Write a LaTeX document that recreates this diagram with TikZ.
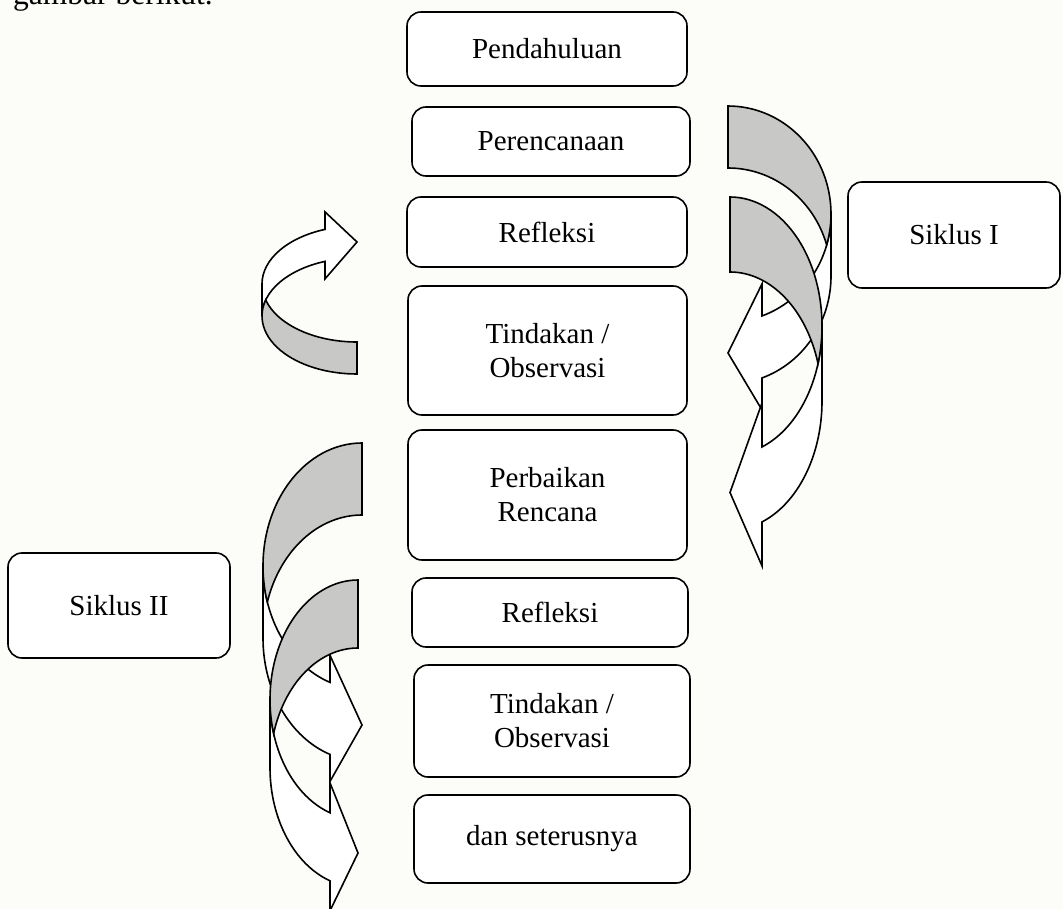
\documentclass[tikz,border=0pt]{standalone}
\usepackage{fontspec}
\setmainfont{Liberation Serif}
\definecolor{bgcol}{RGB}{252,252,248}
\definecolor{bandgray}{RGB}{200,201,199}
\newcommand{\bxfont}{\fontsize{29}{34}\selectfont}
\newcommand{\curlarrow}[9]{%
  \pgfmathsetmacro\CAt{acos(-(#9)/(#5))}%
  \pgfmathsetmacro\CAdy{(#6)*sin(\CAt)}%
  \pgfmathsetmacro\CAdh{((#8)-(#7))/2}%
  \pgfmathsetmacro\CAyv{(#6)+\CAdy}%
  \pgfmathsetmacro\CAyvii{(#6)+(#7)+\CAdy}%
  \pgfmathsetmacro\CAyiv{\CAyv-\CAdh}%
  \pgfmathsetmacro\CAyviii{\CAyvii+\CAdh}%
  \pgfmathsetmacro\CAyvi{2*(#6)+(#7)/2}%
  \pgfmathsetmacro\CAs{asin((#7)/(2*(#6)))}%
  \pgfmathsetmacro\CAthA{180-\CAs}%
  \pgfmathsetmacro\CAthB{180+\CAs}%
  \begin{scope}[shift={(#1,#2)},xscale=#3,yscale=#4]
    \filldraw[arrfront] (-#5,#6) arc[start angle=180,end angle=\CAt,x radius=#5,y radius=#6]
      -- (-#9,\CAyiv) -- (0,\CAyvi) -- (-#9,\CAyviii) -- (-#9,\CAyvii)
      arc[start angle=\CAt,end angle=180,x radius=#5,y radius=#6] -- cycle;
    \filldraw[arrback] (0,#7) arc[start angle=270,end angle=\CAthB,x radius=#5,y radius=#6]
      arc[start angle=\CAthA,end angle=270,x radius=#5,y radius=#6] -- cycle;
  \end{scope}}
\begin{document}
\begin{tikzpicture}[x=1pt,y=-1pt,
  box/.style={draw=black, line width=1.6pt, rounded corners=14pt, fill=white,
    align=center, inner sep=0pt, font=\bxfont, text=black},
  arrfront/.style={draw=black, line width=1.6pt, fill=white},
  arrback/.style={draw=black, line width=1.6pt, fill=bandgray}]
\fill[bgcol] (0,0) rectangle (1063,909);
\useasboundingbox (0,0) rectangle (1063,909);
\node[anchor=base west, font=\fontsize{31.5}{36}\selectfont, inner sep=0pt] (top) at (13,5) {gambar berikut.};
% curved arrows
\curlarrow{728}{106}{-1}{1}{103}{108}{62}{126}{34}
\curlarrow{730}{197}{-1}{1}{92}{129}{75}{163}{32}
\curlarrow{362}{443}{1}{1}{99}{123}{72}{126}{32}
\curlarrow{358}{580}{1}{1}{88}{119.5}{68}{128}{28}
\curlarrow{357}{374}{1}{-1}{95}{58}{32}{67}{32}
% boxes
\node[box, minimum width=280, minimum height=74] (p1) at (547,49) {Pendahuluan};
\node[box, minimum width=278, minimum height=69] (p2) at (551,141.5) {Perencanaan};
\node[box, minimum width=280, minimum height=70] (p3) at (547,232) {Refleksi};
\node[box, minimum width=279, minimum height=129] (p4) at (547.5,350.5) {Tindakan /\\Observasi};
\node[box, minimum width=279, minimum height=130] (p5) at (547.5,495) {Perbaikan\\Rencana};
\node[box, minimum width=276, minimum height=69] (p6) at (550,612.5) {Refleksi};
\node[box, minimum width=276, minimum height=112] (p7) at (552,721) {Tindakan /\\Observasi};
\node[box, minimum width=276, minimum height=88] (p8) at (552,839) {dan seterusnya};
\node[box, minimum width=212, minimum height=106] (s1) at (954,235) {Siklus I};
\node[box, minimum width=222, minimum height=105] (s2) at (119,605.5) {Siklus II};
\end{tikzpicture}
\end{document}
